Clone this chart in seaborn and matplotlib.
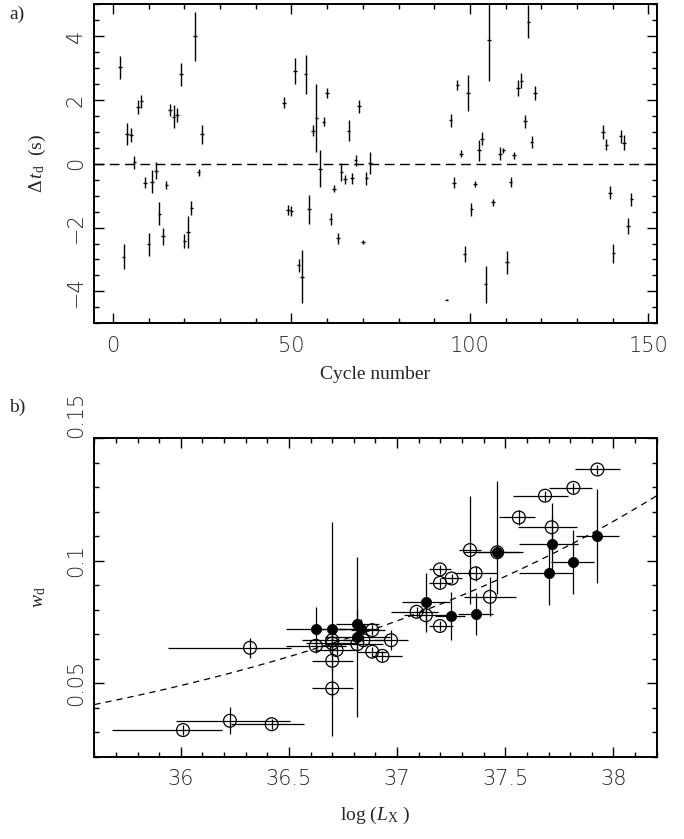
import numpy as np
import seaborn as sns
import matplotlib.pyplot as plt
import matplotlib.ticker as ticker
import pandas as pd

# ---- panel a: delay residuals per cycle ----
cycle = [2, 3, 4, 5, 6, 7, 8, 9, 10, 11, 12, 13, 14, 15, 16, 17, 18, 19, 20, 21, 22, 23, 24, 25,
         48, 49, 50, 51, 52, 53, 54, 55, 56, 57, 58, 59, 60, 61, 62, 63, 64, 65, 66, 67, 68, 69, 70, 71, 72,
         93.5, 94.6, 95.5, 96.5, 97.5, 98.5, 99.5, 100.4, 101.5, 102.5, 103.4, 104.4, 105.4, 106.4,
         108.4, 109.4, 110.4, 111.4, 112.4, 113.4, 114.4, 115.4, 116.4, 117.3, 118.3,
         137.2, 138.2, 139.2, 140.2, 142.2, 143.2, 144.2, 145.2]
dt = [3.03, -2.91, 0.93, 0.90, 0.04, 1.78, 1.96, -0.59, -2.53, -0.56, -0.22, -1.56, -2.27, -0.66,
      1.69, 1.48, 1.52, 2.80, -2.42, -2.13, -1.40, 3.99, -0.27, 0.92,
      1.92, -1.46, -1.49, 2.91, -3.18, -3.54, 2.80, -1.43, 1.04, 1.44, -0.15, 1.32, 2.22, -1.74,
      -0.78, -2.34, -0.26, -0.49, 1.04, -0.46, 0.11, 1.80, -2.45, -0.46, 0.03,
      -4.26, 1.36, -0.59, 2.48, 0.31, -2.83, 2.22, -1.43, -0.63, 0.42, 0.79, -3.77, 3.89, -1.20,
      0.32, 0.42, -3.09, -0.57, 0.26, 2.38, 2.60, 1.33, 4.46, 0.69, 2.22,
      1.00, 0.60, -0.91, -2.81, 0.86, 0.66, -1.95, -1.11]
dt_err = [0.36, 0.39, 0.34, 0.21, 0.20, 0.22, 0.20, 0.17, 0.35, 0.35, 0.27, 0.37, 0.27, 0.12,
          0.18, 0.36, 0.22, 0.36, 0.21, 0.50, 0.22, 0.77, 0.12, 0.29,
          0.18, 0.16, 0.16, 0.41, 0.20, 0.84, 0.61, 0.45, 0.18, 1.06, 0.57, 0.14, 0.16, 0.19,
          0.10, 0.16, 0.27, 0.14, 0.34, 0.16, 0.18, 0.20, 0.05, 0.20, 0.34,
          0.02, 0.21, 0.18, 0.16, 0.11, 0.26, 0.55, 0.21, 0.10, 0.33, 0.20, 0.58, 1.28, 0.11,
          0.21, 0.08, 0.36, 0.16, 0.11, 0.24, 0.23, 0.21, 0.52, 0.18, 0.21,
          0.21, 0.17, 0.21, 0.30, 0.20, 0.23, 0.25, 0.20]

# ---- panel b: width vs luminosity ----
open_logl = [36.01, 36.227, 36.42, 36.32, 36.624, 36.70, 36.70, 36.72, 36.70, 36.70,
             36.816, 36.844, 36.885, 36.885, 36.932, 36.972, 37.09, 37.133, 37.198, 37.198,
             37.252, 37.198, 37.337, 37.363, 37.429, 37.463, 37.563, 37.684, 37.715, 37.815, 37.926]
open_w = [0.0309, 0.0347, 0.0333, 0.0645, 0.0653, 0.0676, 0.0663, 0.0636, 0.0592, 0.0479,
          0.0660, 0.0676, 0.0717, 0.0629, 0.0612, 0.0676, 0.0792, 0.0778, 0.0734, 0.0965,
          0.0928, 0.0910, 0.1044, 0.0949, 0.0853, 0.1035, 0.1177, 0.1266, 0.1137, 0.1298, 0.1373]
open_xlo = [0.33, 0.25, 0.19, 0.38, 0.14, 0.14, 0.12, 0.10, 0.095, 0.095,
            0.15, 0.10, 0.10, 0.07, 0.05, 0.08, 0.12, 0.10, 0.05, 0.05,
            0.05, 0.05, 0.05, 0.10, 0.12, 0.10, 0.09, 0.15, 0.155, 0.115, 0.105]
open_xhi = [0.18, 0.28, 0.15, 0.19, 0.14, 0.12, 0.12, 0.10, 0.095, 0.095,
            0.12, 0.10, 0.06, 0.07, 0.09, 0.08, 0.10, 0.10, 0.06, 0.05,
            0.05, 0.05, 0.05, 0.10, 0.12, 0.10, 0.075, 0.105, 0.115, 0.085, 0.105]
open_werr = [0.002, 0.0056, 0.002, 0.0042, 0.003, 0.003, 0.003, 0.002, 0.004, 0.004,
             0.003, 0.002, 0.002, 0.002, 0.002, 0.004, 0.002, 0.004, 0.002, 0.002,
             0.002, 0.002, 0.022, 0.003, 0.008, 0.002, 0.003, 0.002, 0.010, 0.002, 0.002]

fill_logl = [36.624, 36.70, 36.816, 36.833, 36.816, 37.133, 37.25, 37.363, 37.463,
             37.715, 37.704, 37.812, 37.926]
fill_w = [0.0721, 0.0721, 0.0742, 0.0721, 0.0690, 0.0830, 0.0774, 0.0784, 0.1035,
          0.1068, 0.0949, 0.0996, 0.1101]
fill_xlo = [0.14, 0.10, 0.10, 0.10, 0.15, 0.11, 0.075, 0.08, 0.16, 0.15, 0.14, 0.10, 0.10]
fill_xhi = [0.14, 0.10, 0.10, 0.08, 0.15, 0.11, 0.065, 0.08, 0.12, 0.12, 0.11, 0.10, 0.10]
fill_wlo = [0.0092, 0.0437, 0.006, 0.004, 0.0327, 0.0121, 0.0099, 0.0086, 0.017,
            0.011, 0.013, 0.013, 0.0192]
fill_whi = [0.0092, 0.0437, 0.006, 0.004, 0.0327, 0.0121, 0.0099, 0.0086, 0.029,
            0.011, 0.013, 0.013, 0.0192]

# dashed model curve: w = w37 * (L / 1e37)^index
w37 = 0.0755
index = 0.187

sns.set_style("ticks")
plt.rcParams['font.family'] = ['Liberation Serif', 'DejaVu Serif']
plt.rcParams['mathtext.fontset'] = 'custom'
plt.rcParams['mathtext.rm'] = 'Liberation Serif'
plt.rcParams['mathtext.it'] = 'Liberation Serif:italic'
plt.rcParams['axes.linewidth'] = 1.4
plt.rcParams['axes.edgecolor'] = 'black'

tick_font = dict(family='DejaVu Sans', weight='light', size=15)

fig = plt.figure(figsize=(6.84, 8.39), dpi=100)
ax1 = fig.add_axes([0.1379, 0.6147, 0.8221, 0.3802])
ax2 = fig.add_axes([0.1379, 0.0980, 0.8221, 0.3795])


def style_axes(ax):
    ax.tick_params(which='both', direction='in', top=True, right=True, color='black', width=1.0)
    ax.tick_params(which='major', length=7.5)
    ax.tick_params(which='minor', length=3.8)
    ax.tick_params(axis='x', pad=9)
    ax.tick_params(axis='y', pad=6, labelrotation=90)
    for lab in ax.get_xticklabels() + ax.get_yticklabels():
        lab.set_fontfamily(tick_font['family'])
        lab.set_fontweight(tick_font['weight'])
        lab.set_fontsize(tick_font['size'])
    for lab in ax.get_yticklabels():
        lab.set_va('center')


# panel a
df_a = pd.DataFrame({'cycle': cycle, 'dt': dt, 'err': dt_err})
ax1.axhline(0, color='black', lw=1.0, ls=(0, (7, 4)))
ax1.errorbar(df_a['cycle'], df_a['dt'], yerr=df_a['err'], xerr=0.5, fmt='none',
             ecolor='black', elinewidth=1.0, capsize=0)
ax1.set_xlim(-5.2, 152.3)
ax1.set_ylim(-5, 5)
ax1.set_xticks([0, 50, 100, 150])
ax1.set_yticks([-4, -2, 0, 2, 4])
ax1.xaxis.set_minor_locator(ticker.MultipleLocator(10))
ax1.yaxis.set_minor_locator(ticker.MultipleLocator(0.5))
style_axes(ax1)
ax1.set_xlabel('Cycle number', fontsize=14)
ax1.set_ylabel(r'$\Delta\,t_{\rm d}$  (s)', fontsize=14)
ax1.xaxis.set_label_coords(0.5, -0.135)
ax1.yaxis.set_label_coords(-0.083, 0.5)

# panel b
df_open = pd.DataFrame({'logl': open_logl, 'w': open_w})
df_fill = pd.DataFrame({'logl': fill_logl, 'w': fill_w})

curve_x = np.linspace(35.6, 38.2, 200)
ax2.plot(curve_x, w37 * 10 ** (index * (curve_x - 37.0)), color='black', lw=0.9,
         ls=(0, (5, 4)))

ax2.errorbar(open_logl, open_w, xerr=[open_xlo, open_xhi], yerr=open_werr, fmt='none',
             ecolor='black', elinewidth=0.9, capsize=0)
ax2.errorbar(fill_logl, fill_w, xerr=[fill_xlo, fill_xhi], yerr=[fill_wlo, fill_whi],
             fmt='none', ecolor='black', elinewidth=0.9, capsize=0)

sns.scatterplot(data=df_open, x='logl', y='w', ax=ax2, marker='o', s=85,
                color='white', edgecolor='black', linewidth=0.9, zorder=3)
ax2.collections[-1].set_facecolor('none')
sns.scatterplot(data=df_fill, x='logl', y='w', ax=ax2, marker='o', s=55,
                color='black', edgecolor='black', linewidth=0.5, zorder=4)

ax2.set_xlim(35.6, 38.2)
ax2.set_ylim(0.02, 0.15)
ax2.set_xticks([36, 36.5, 37, 37.5, 38])
ax2.set_xticklabels(['36', '36.5', '37', '37.5', '38'])
ax2.set_yticks([0.05, 0.1, 0.15])
ax2.set_yticklabels(['0.05', '0.1', '0.15'])
ax2.xaxis.set_minor_locator(ticker.MultipleLocator(0.1))
ax2.yaxis.set_minor_locator(ticker.MultipleLocator(0.01))
style_axes(ax2)
ax2.get_yticklabels()[-1].set_va('bottom')
ax2.set_xlabel(r'log ($L_{\rm X}$ )', fontsize=14)
ax2.set_ylabel(r'$w_{\rm d}$', fontsize=14)
ax2.xaxis.set_label_coords(0.5, -0.15)
ax2.yaxis.set_label_coords(-0.083, 0.5)

fig.text(0.013, 1 - 14 / 839, 'a)', fontsize=14, va='center', ha='left')
fig.text(0.013, 1 - 407 / 839, 'b)', fontsize=14, va='center', ha='left')

fig.savefig('out.png', dpi=100)
